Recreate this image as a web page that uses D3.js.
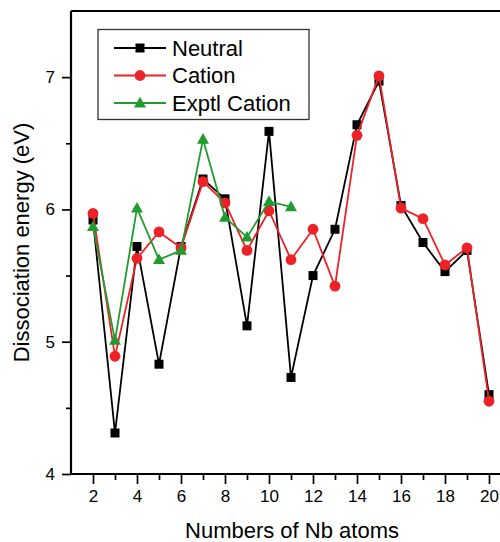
<!DOCTYPE html>
<html lang="en">
<head>
    <meta charset="UTF-8">
    <title>Dissociation energy of Nb clusters</title>
    <script src="https://d3js.org/d3.v7.min.js"></script>
    <style>
        body { margin: 0; background: #fff; }
        #chart { width: 500px; height: 542px; overflow: hidden; }
        text { font-family: "Liberation Sans", Arial, sans-serif; fill: #000; }
    </style>
</head>
<body>
    <div id="chart"></div>

    <script>
        // Data
        const atoms = [2, 3, 4, 5, 6, 7, 8, 9, 10, 11, 12, 13, 14, 15, 16, 17, 18, 19, 20];
        const neutral = [5.92, 4.31, 5.72, 4.83, 5.72, 6.23, 6.08, 5.12, 6.59, 4.73, 5.50, 5.85, 6.64, 6.97, 6.03, 5.75, 5.53, 5.69, 4.60];
        const cation = [5.97, 4.89, 5.63, 5.83, 5.71, 6.21, 6.05, 5.69, 5.99, 5.62, 5.85, 5.42, 6.56, 7.01, 6.01, 5.93, 5.58, 5.71, 4.55];
        const exptAtoms = [2, 3, 4, 5, 6, 7, 8, 9, 10, 11];
        const exptCation = [5.87, 5.01, 6.01, 5.62, 5.69, 6.53, 5.94, 5.79, 6.06, 6.02];
        const xTicks = [2, 4, 6, 8, 10, 12, 14, 16, 18, 20];
        const yTicks = [4, 5, 6, 7];

        const width = 500, height = 542;
        const margin = { top: 11, left: 71, bottom: 68 };

        const svg = d3.select("#chart")
            .append("svg")
            .attr("width", width)
            .attr("height", height);

        const x = d3.scaleLinear().domain([1, 21]).range([margin.left, margin.left + 440]);
        const y = d3.scaleLinear().domain([4, 7.5]).range([height - margin.bottom, margin.top]);

        // Axes
        svg.append("g")
            .attr("transform", `translate(0,${y(4)})`)
            .call(d3.axisBottom(x).tickValues(xTicks).tickSize(10).tickPadding(6).tickFormat(d3.format("d")));
        svg.append("g")
            .attr("transform", `translate(0,${y(4)})`)
            .call(d3.axisBottom(x).tickValues(d3.range(3, 22, 2)).tickSize(6).tickFormat(""));

        svg.append("g")
            .attr("transform", `translate(${x(1)},0)`)
            .call(d3.axisLeft(y).tickValues(yTicks).tickSize(9).tickPadding(7).tickFormat(d3.format("d")));
        svg.append("g")
            .attr("transform", `translate(${x(1)},0)`)
            .call(d3.axisLeft(y).tickValues([4.5, 5.5, 6.5]).tickSize(5).tickFormat(""));

        svg.selectAll(".domain").remove();
        svg.selectAll(".tick line").attr("stroke-width", 1.7);
        svg.selectAll(".tick text").attr("font-size", 17).attr("font-family", "Liberation Sans, Arial, sans-serif");

        // Spines (left, bottom, top)
        svg.append("line").attr("x1", x(1)).attr("x2", x(1)).attr("y1", y(7.5)).attr("y2", y(4))
            .attr("stroke", "#000").attr("stroke-width", 2.2);
        svg.append("line").attr("x1", x(1)).attr("x2", x(21)).attr("y1", y(4)).attr("y2", y(4))
            .attr("stroke", "#000").attr("stroke-width", 2.2);
        svg.append("line").attr("x1", x(1)).attr("x2", x(21)).attr("y1", y(7.5)).attr("y2", y(7.5))
            .attr("stroke", "#000").attr("stroke-width", 2.2);

        // Axis titles
        svg.append("text")
            .attr("x", 292)
            .attr("y", 538)
            .attr("text-anchor", "middle")
            .attr("font-size", 22)
            .text("Numbers of Nb atoms");
        svg.append("text")
            .attr("transform", `translate(29,${(y(4) + y(7.5)) / 2}) rotate(-90)`)
            .attr("text-anchor", "middle")
            .attr("font-size", 22)
            .text("Dissociation energy (eV)");

        const series = [
            { name: "Neutral", xs: atoms, ys: neutral, color: "#000000", shape: "square" },
            { name: "Cation", xs: atoms, ys: cation, color: "#ec2227", shape: "circle" },
            { name: "Exptl Cation", xs: exptAtoms, ys: exptCation, color: "#1f9b2f", shape: "triangle" }
        ];

        function marker(g, shape, color) {
            if (shape === "square") {
                g.append("rect").attr("x", -4.5).attr("y", -4.5).attr("width", 9).attr("height", 9).attr("fill", color);
            } else if (shape === "circle") {
                g.append("circle").attr("r", 5.4).attr("fill", color);
            } else {
                g.append("path").attr("d", "M0,-6.2L6,4.4L-6,4.4Z").attr("fill", color);
            }
        }

        const line = d3.line().x(d => x(d[0])).y(d => y(d[1]));

        series.forEach(s => {
            const pts = s.xs.map((v, i) => [v, s.ys[i]]);
            svg.append("path")
                .datum(pts)
                .attr("d", line)
                .attr("fill", "none")
                .attr("stroke", s.color)
                .attr("stroke-width", 1.8);
            svg.append("g")
                .selectAll("g")
                .data(pts)
                .join("g")
                .attr("transform", d => `translate(${x(d[0])},${y(d[1])})`)
                .each(function () { marker(d3.select(this), s.shape, s.color); });
        });

        // Legend
        const legend = svg.append("g");
        legend.append("rect")
            .attr("x", 98).attr("y", 29.5)
            .attr("width", 211).attr("height", 90)
            .attr("fill", "#fff")
            .attr("stroke", "#333")
            .attr("stroke-width", 1.3);
        series.forEach((s, i) => {
            const ly = 48 + i * 27.5;
            const g = legend.append("g");
            g.append("line").attr("x1", 114).attr("x2", 166).attr("y1", ly).attr("y2", ly)
                .attr("stroke", s.color).attr("stroke-width", 1.8);
            marker(g.append("g").attr("transform", `translate(140,${ly})`), s.shape, s.color);
            g.append("text")
                .attr("x", 172).attr("y", ly)
                .attr("dy", "0.36em")
                .attr("font-size", 22)
                .text(s.name);
        });
    </script>
</body>
</html>
